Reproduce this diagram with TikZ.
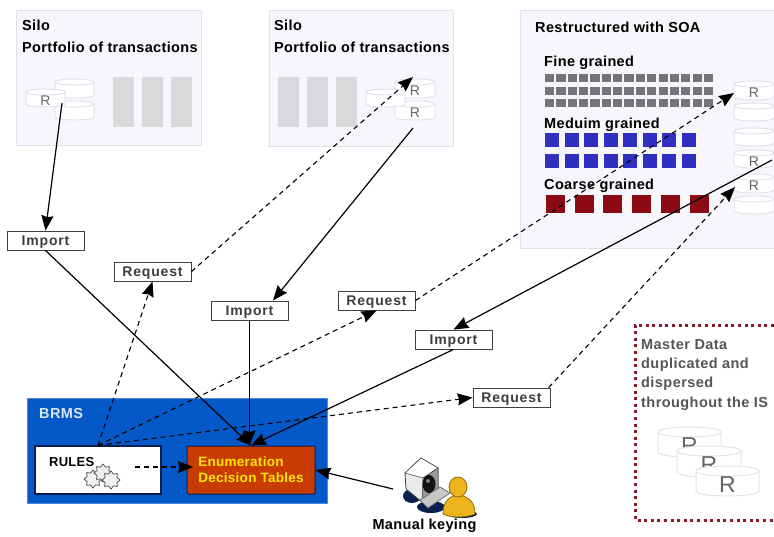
\documentclass[tikz,border=0pt]{standalone}
\usepackage{fontspec}
\setmainfont{Liberation Sans}
\usetikzlibrary{arrows.meta,calc,shapes.geometric}
\definecolor{panelfill}{HTML}{F7F7FB}
\definecolor{panelline}{HTML}{E2E2EE}
\definecolor{barfill}{HTML}{D9D9DB}
\definecolor{finecol}{HTML}{757579}
\definecolor{medcol}{HTML}{2F2FC0}
\definecolor{coarsecol}{HTML}{8B0A14}
\definecolor{brmsblue}{HTML}{0558C8}
\definecolor{brmsedge}{HTML}{4A8AD8}
\definecolor{enumfill}{HTML}{C83C02}
\definecolor{navyline}{HTML}{0A1E50}
\definecolor{dotred}{HTML}{8B1A2B}
\definecolor{greytext}{HTML}{55555A}
\definecolor{dbtext}{HTML}{66666A}
\definecolor{tagtext}{HTML}{3C3C42}
\definecolor{persony}{HTML}{EDB41E}
\definecolor{persone}{HTML}{8A6A08}
\newcommand{\headfont}{\fontsize{14.5}{17}\selectfont\bfseries\addfontfeature{LetterSpace=2.5}}
\tikzset{
  panel/.style={draw=panelline,fill=panelfill,line width=1pt},
  head/.style={anchor=base west,inner sep=0pt,font=\headfont},
  tagbox/.style={draw=black!75,fill=white,line width=0.9pt,inner sep=0pt,text=tagtext,text height=10pt,text depth=1pt,
     font=\fontsize{14}{16}\selectfont\bfseries\addfontfeature{LetterSpace=6}},
  solidarrow/.style={draw=black,line width=1.2pt,-{Stealth[length=15pt,width=12pt,inset=1.5pt]}},
  dasharrow/.style={draw=black,line width=1.1pt,dash pattern=on 5pt off 4pt,-{Stealth[length=15pt,width=12pt,inset=1.5pt]}},
  dbshape/.style={draw=panelline,fill=white,line width=1pt},
  dblabel/.style={inner sep=0pt,text=dbtext,font=\fontsize{14}{16}\selectfont},
  gear/.style={star,star points=8,star point ratio=1.4,draw=black!75,fill=black!6,line width=0.7pt,minimum size=18pt,inner sep=0pt},
}
\newcommand{\dbc}[7][3]{% [e]{name}{x1}{y1}{x2}{y2}{label}
  \pgfmathsetmacro{\ya}{#4+#1}\pgfmathsetmacro{\yb}{#6-#1}
  \pgfmathsetmacro{\yc}{#4+#1+#1*1.33}\pgfmathsetmacro{\yd}{#4+#1-#1*1.33}
  \pgfmathsetmacro{\ye}{#6-#1+#1*1.33}
  \path[dbshape] (#3,\ya) .. controls (#3,\yd) and (#5,\yd) .. (#5,\ya) -- (#5,\yb)
     .. controls (#5,\ye) and (#3,\ye) .. (#3,\yb) -- cycle;
  \path[draw=panelline,line width=1pt] (#3,\ya) .. controls (#3,\yc) and (#5,\yc) .. (#5,\ya);
  \node[dblabel] (#2) at ({(#3+#5)/2},{(\ya+#6)/2+1}) {#7};
}
\begin{document}
\begin{tikzpicture}[x=1pt,y=-1pt]
\useasboundingbox (0,0) rectangle (774,536);
\fill[white] (0,0) rectangle (774,536);
% panels
\path[panel] (16,10) rectangle (201,145);
\path[panel] (269,10) rectangle (453,146);
\path[panel] (520,10) rectangle (780,248);
% panel 1
\node[head] (t1) at (22,30) {Silo};
\node[head] (t2) at (22,52) {Portfolio of transactions};
\dbc{a1}{55}{79}{94}{98}{}
\dbc{a2}{55}{101}{94}{120}{}
\dbc{a3}{26}{89}{65}{107}{R}
\foreach \x in {113,142,171} \fill[barfill] (\x,77) rectangle (\x+21,127);
% panel 2
\node[head] (t3) at (274,30) {Silo};
\node[head] (t4) at (274,52) {Portfolio of transactions};
\foreach \x in {278,307,336} \fill[barfill] (\x,77) rectangle (\x+21,127);
\dbc{b1}{395}{79}{435}{98}{R}
\dbc{b2}{395}{101}{435}{120}{R}
\dbc{b3}{366}{89}{405}{107}{}
% panel 3
\node[head] (t5) at (535,32) {Restructured with SOA};
\node[head] (t6) at (544,66) {Fine grained};
\node[head] (t7) at (544,128) {Meduim grained};
\node[head] (t8) at (544,189) {Coarse grained};
\foreach \y in {74,87,99} \foreach \i in {0,...,14}
  \fill[finecol] ({545+\i*11.35},\y) rectangle ({545+\i*11.35+9.2},\y+8.2);
\foreach \y in {133,154} \foreach \i in {0,...,7}
  \fill[medcol] ({545+\i*19.5},\y) rectangle ({545+\i*19.5+14},\y+14);
\foreach \i in {0,...,5}
  \fill[coarsecol] ({546+\i*28.7},195) rectangle ({546+\i*28.7+19},213);
\dbc{c1}{734}{81}{774}{100}{R}
\dbc{c2}{734}{103}{774}{121}{}
\dbc{c3}{734}{128}{774}{146}{}
\dbc{c4}{734}{150}{774}{168}{R}
\dbc{c5}{734}{174}{774}{193}{R}
\dbc{c6}{734}{196}{774}{214}{}
% master data
\draw[dotred,line width=3pt,dash pattern=on 3pt off 3.6pt] (774,325) -- (635,325) -- (635,520) -- (774,520);
\foreach \t/\y in {Master Data/349,duplicated and/368,dispersed/387,throughout the IS/407}
  \node[anchor=base west,inner sep=0pt,text=greytext,font=\fontsize{14.5}{17}\selectfont\bfseries\addfontfeature{LetterSpace=3}] at (641,\y) {\t};
\tikzset{dblabel/.append style={font=\fontsize{23}{26}\selectfont}}
\dbc[5]{m1}{658}{427}{721}{457}{R}
\dbc[5]{m2}{677}{446}{741}{477}{R}
\dbc[5]{m3}{696}{466}{759}{496}{R}
\tikzset{dblabel/.append style={font=\fontsize{14}{16}\selectfont}}
% BRMS
\path[fill=brmsblue,draw=brmsedge,line width=1pt] (27,398) rectangle (327,503);
\node[anchor=base west,inner sep=0pt,text=white!85!brmsblue,font=\headfont] (brmst) at (39,418) {BRMS};
\node[draw=navyline,fill=white,line width=1.3pt,minimum width=126pt,minimum height=48pt,inner sep=0pt] (rules) at (98,470) {};
\node[anchor=base west,inner sep=0pt,font=\fontsize{13}{15}\selectfont\bfseries\addfontfeature{LetterSpace=2}] (rulest) at (49,466) {RULES};
\node[gear] (g1) at (93,479) {};
\node[gear] (g2) at (103,473) {};
\node[gear] (g3) at (111,480) {};
\node[draw=navyline,fill=enumfill,line width=1pt,minimum width=128pt,minimum height=48pt,inner sep=0pt,rounded corners=1pt,align=left,text=yellow!90!orange,font=\fontsize{13.5}{16}\selectfont\bfseries\addfontfeature{LetterSpace=2}] (enum) at (251,470) {Enumeration\\Decision Tables};
% tags
\node[tagbox,minimum width=77pt,minimum height=19pt] (imp1) at (45.5,240.5) {Import};
\node[tagbox,minimum width=77pt,minimum height=19pt] (imp2) at (249.5,310.5) {Import};
\node[tagbox,minimum width=77pt,minimum height=19pt] (imp3) at (453.5,339.5) {Import};
\node[tagbox,minimum width=77pt,minimum height=19pt] (req1) at (152.5,271.5) {Request};
\node[tagbox,minimum width=77pt,minimum height=19pt] (req2) at (376.5,300.5) {Request};
\node[tagbox,minimum width=77pt,minimum height=19pt] (req3) at (511.5,397.5) {Request};
% manual keying icon
\coordinate (usr) at (393,489);
\fill[navyline] (412,496) ellipse (9 and 7);
\fill[navyline] (431,507) ellipse (14 and 6);
\fill[navyline] (462,514) ellipse (15 and 4);
\path[fill=black!8,draw=black!75,line width=0.8pt] (405,473) -- (421,458) -- (438,468) -- (438,488) -- (422,502) -- (406,489) -- cycle;
\path[fill=white,draw=black!75,line width=0.5pt] (405,473) -- (421,458) -- (438,468) -- (423,478) -- cycle;
\path[fill=black!40,draw=black!75,line width=0.5pt] (423,478) -- (438,468) -- (438,488) -- (422,502) -- cycle;
\fill[black!92] (429,484) ellipse (6.5 and 9);
\fill[black!50] (428,481) circle (2);
\path[fill=black!22,draw=black!60,line width=0.7pt] (420,500) -- (440,487) -- (450,493) -- (428,508) -- cycle;
\path[fill=persony,draw=persone,line width=0.8pt] (443,514) .. controls (443,500) and (450,497) .. (458,494) .. controls (467,497) and (475,500) .. (475,514) .. controls (465,518) and (452,518) .. (443,514) -- cycle;
\path[fill=persony,draw=persone,line width=0.8pt] (458,487) ellipse (9 and 10);
\node[inner sep=0pt,font=\headfont] (keying) at (424.5,526) {Manual keying};
% connectors
\coordinate (ra) at (62,103);
\coordinate (rb) at (413,77);
\coordinate (rc) at (413,128);
\coordinate (rd) at (734,93);
\coordinate (re) at (772,160);
\coordinate (rf) at (735,187);
\coordinate (rulesdash) at (135,467);
\coordinate (enumdash) at (193,467);
\draw[solidarrow] (ra) -- (imp1.north);
\draw[solidarrow] (imp1.south) -- (enum.north);
\draw[solidarrow] (rc) -- (imp2.23);
\draw[solidarrow] (imp2.south) -- (imp2.south |- enum.north);
\draw[solidarrow] (re) -- (imp3.north);
\draw[solidarrow] (imp3.south) -- (enum.north);
\draw[dasharrow] (rules.north) -- (req1.south);
\draw[dasharrow] (rules.north) -- (req2.south);
\draw[dasharrow] (rules.north) -- (req3.west);
\draw[dasharrow] (req1.east) -- (rb);
\draw[dasharrow] (req2.east) -- (rd);
\draw[dasharrow] (req3.15) -- (rf);
\draw[dasharrow] (rulesdash) -- (enumdash);
\draw[solidarrow] (usr) -- (enum.east);
\end{tikzpicture}
\end{document}
